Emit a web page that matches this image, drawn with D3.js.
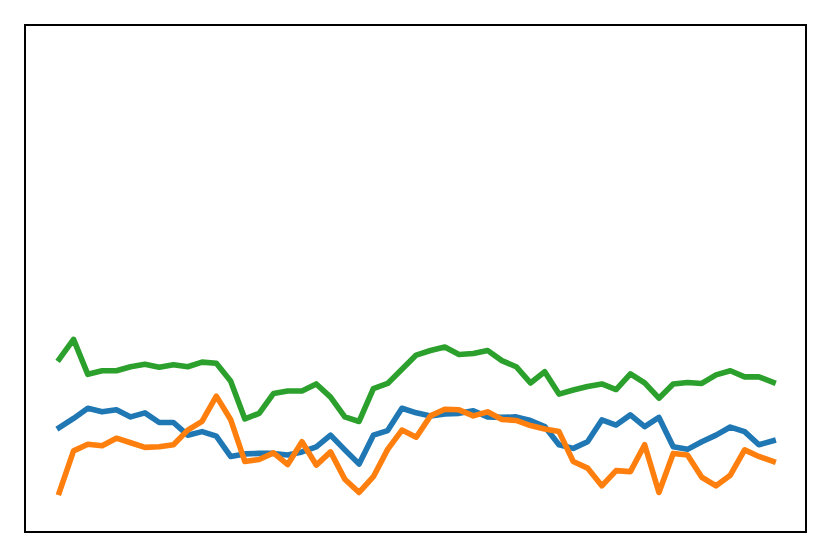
<!DOCTYPE html>
<html>
<head>
<meta charset="utf-8">
<script src="https://cdn.jsdelivr.net/npm/d3@7"></script>
<style>
  html, body { margin: 0; padding: 0; background: #fff; }
  svg { display: block; }
</style>
</head>
<body>
<svg id="chart" width="831" height="557"></svg>
<script>
const blueValues = [20.6, 22.4, 24.4, 23.7, 24.1, 22.7, 23.5, 21.6, 21.6, 19.1,
  19.8, 18.9, 14.9, 15.4, 15.5, 15.5, 15.2, 15.8, 16.8, 19.1,
  16.2, 13.4, 19.1, 20.0, 24.4, 23.5, 22.9, 23.3, 23.4, 23.9,
  22.7, 22.6, 22.7, 22.0, 20.8, 17.2, 16.5, 17.8, 22.1, 21.1,
  23.1, 20.8, 22.6, 16.8, 16.3, 17.8, 19.1, 20.7, 19.8, 17.2, 18.0];
const orangeValues = [7.8, 16.0, 17.3, 17.0, 18.5, 17.6, 16.7, 16.8, 17.2, 20.1,
  21.8, 26.8, 22.2, 13.9, 14.3, 15.6, 13.3, 17.8, 13.2, 15.8,
  10.4, 7.8, 10.9, 16.3, 20.1, 18.7, 22.9, 24.2, 24.1, 22.9,
  23.7, 22.2, 22.0, 21.0, 20.3, 19.8, 13.9, 12.6, 9.1, 12.1,
  11.9, 17.2, 7.8, 15.5, 15.2, 10.8, 9.1, 11.2, 16.2, 14.9, 13.9];
const greenValues = [34.1, 38.0, 31.1, 31.8, 31.8, 32.6, 33.1, 32.5, 33.0, 32.6,
  33.5, 33.3, 29.8, 22.3, 23.4, 27.3, 27.8, 27.8, 29.2, 26.6,
  22.7, 21.8, 28.3, 29.3, 32.1, 34.9, 35.8, 36.5, 35.0, 35.2,
  35.8, 33.8, 32.6, 29.4, 31.6, 27.2, 28.0, 28.7, 29.2, 28.1,
  31.2, 29.4, 26.4, 29.2, 29.5, 29.3, 31.0, 31.8, 30.6, 30.6, 29.5];
const seriesNames = ["blue", "orange", "green"];
const seriesColors = ["#1f77b4", "#ff7f0e", "#2ca02c"];

const svg = d3.select("#chart");
const plotLeft = 25, plotRight = 806, plotTop = 25, plotBottom = 532;

const x = d3.scaleLinear().domain([-2.4, 52.3]).range([plotLeft, plotRight]);
const y = d3.scaleLinear().domain([0, 100]).range([plotBottom, plotTop]);

const allSeries = [blueValues, orangeValues, greenValues];
const line = d3.line().x((d, i) => x(i)).y(d => y(d));

svg.append("defs").append("clipPath").attr("id", "clip")
  .append("rect").attr("x", plotLeft).attr("y", plotTop)
  .attr("width", plotRight - plotLeft).attr("height", plotBottom - plotTop);

svg.append("g").attr("clip-path", "url(#clip)")
  .selectAll("path")
  .data(allSeries)
  .join("path")
  .attr("class", (d, i) => "series-" + seriesNames[i])
  .attr("d", d => line(d))
  .attr("fill", "none")
  .attr("stroke", (d, i) => seriesColors[i])
  .attr("stroke-width", 5.6)
  .attr("stroke-linejoin", "round")
  .attr("stroke-linecap", "square");

svg.append("rect")
  .attr("x", plotLeft).attr("y", plotTop)
  .attr("width", plotRight - plotLeft).attr("height", plotBottom - plotTop)
  .attr("fill", "none").attr("stroke", "#000").attr("stroke-width", 2);
</script>
</body>
</html>
